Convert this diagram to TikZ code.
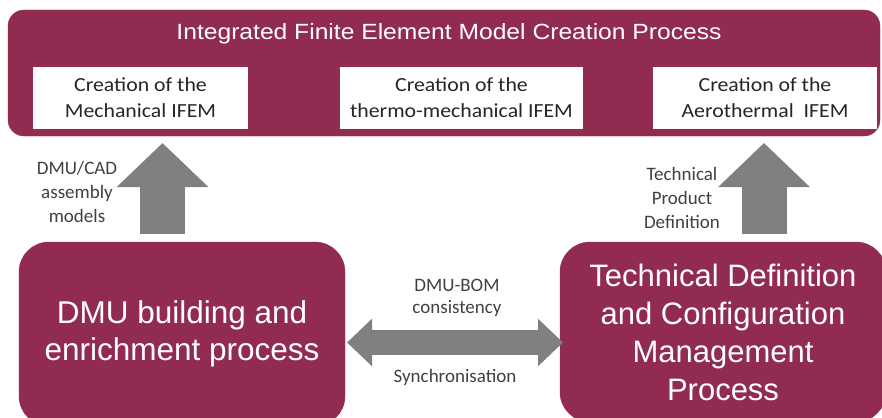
\documentclass[tikz,border=0pt]{standalone}
\usepackage{fontspec}
\setmainfont{Liberation Sans}
\newfontfamily\calfont{Carlito}
\newfontfamily\titlefont{Liberation Sans}[FakeStretch=1.12]
\newfontfamily\boxfont{Carlito}[FakeStretch=1.09]
\usetikzlibrary{arrows.meta}
\definecolor{crim}{RGB}{146,43,82}
\definecolor{arrgray}{RGB}{128,128,128}
\definecolor{lblgray}{RGB}{64,64,64}
\begin{document}
\begin{tikzpicture}[x=1pt,y=-1pt,
  container/.style={fill=crim, draw=crim, rounded corners=16pt, inner sep=0pt},
  wbox/.style={fill=white, draw=none, inner sep=0pt, align=center, text=black!85,
    font=\boxfont\fontsize{20}{26}\selectfont},
  bigbox/.style={fill=crim, draw=crim, rounded corners=30pt, inner sep=0pt, align=center,
    text=white},
  lbl/.style={align=center, text=lblgray, inner sep=0pt, font=\calfont\fontsize{19}{24}\selectfont},
  uparrow/.style={draw=arrgray, line width=45pt, -{Triangle[length=44pt,width=89pt]}},
  dblarrow/.style={draw=arrgray, line width=25pt,
    {Triangle[length=25pt,width=46pt]}-{Triangle[length=25pt,width=46pt]}}]
\useasboundingbox (0,0) rectangle (882,417);
% top container
\node[container, minimum width=872pt, minimum height=126pt] (ifem) at (444,73) {};
\node[text=white, inner sep=0pt, font=\titlefont\fontsize{22}{26}\selectfont] (title) at (449,34)
  {Integrated Finite Element Model Creation Process};
\node[wbox, minimum width=215pt, minimum height=62pt] (mech) at (140.5,98)
  {Creation of the\\Mechanical IFEM};
\node[wbox, minimum width=243pt, minimum height=62pt] (thermo) at (461.5,98)
  {Creation of the\\thermo-mechanical IFEM};
\node[wbox, minimum width=224pt, minimum height=62pt] (aero) at (765,98)
  {Creation of the\\Aerothermal~ IFEM};
% bottom boxes
\node[bigbox, minimum width=326pt, minimum height=184pt,
  font=\fontsize{31.5}{37.5}\selectfont] (dmu) at (182,334)
  {DMU building and\\enrichment process};
\node[bigbox, minimum width=326pt, minimum height=180pt,
  font=\fontsize{31}{38}\selectfont] (tdcm) at (723,332)
  {Technical Definition\\and Configuration\\Management\\Process};
% arrows
\coordinate (a1s) at (162.5,234);
\coordinate (a1e) at (162.5,143);
\draw[uparrow] (a1s) -- (a1e);
\coordinate (a2s) at (764,234);
\coordinate (a2e) at (764,143);
\draw[uparrow] (a2s) -- (a2e);
\coordinate (d1) at (347,342.5);
\coordinate (d2) at (563,342.5);
\draw[dblarrow] (d1) -- (d2);
% labels
\node[lbl] (l1) at (77,192) {DMU/CAD\\assembly\\models};
\node[lbl] (l2) at (682,198) {Technical\\Product\\Definition};
\node[lbl, font=\calfont\fontsize{19}{22}\selectfont] (l3) at (457,298) {DMU-BOM\\consistency};
\node[lbl] (l4) at (455,377) {Synchronisation};
\end{tikzpicture}
\end{document}
